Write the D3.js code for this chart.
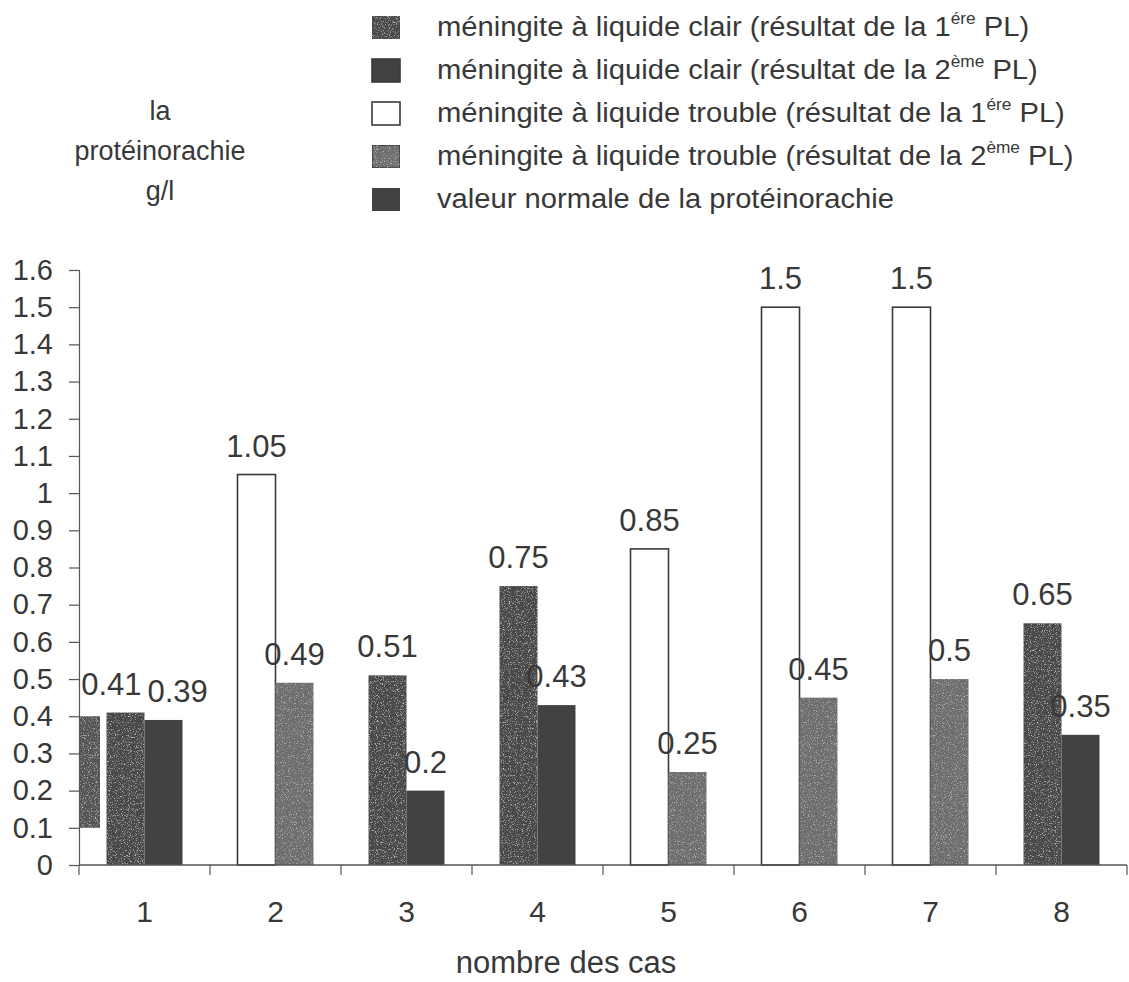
<!DOCTYPE html>
<html lang="fr">
<head>
<meta charset="utf-8">
<script src="https://cdn.jsdelivr.net/npm/d3@7"></script>
<style>
  html, body { margin: 0; padding: 0; background: #fff; }
  svg { display: block; }
  text { font-family: "Liberation Sans", Arial, sans-serif; fill: #383838; }
</style>
</head>
<body>
<svg id="chart" width="1129" height="982"></svg>
<script>
// Protéinorachie (g/l) par cas, 1ère et 2ème ponction lombaire
const categories = ["1", "2", "3", "4", "5", "6", "7", "8"];
const clair1   = [0.41, null, 0.51, 0.75, null, null, null, 0.65];
const clair2   = [0.39, null, 0.20, 0.43, null, null, null, 0.35];
const trouble1 = [null, 1.05, null, null, 0.85, 1.50, 1.50, null];
const trouble2 = [null, 0.49, null, null, 0.25, 0.45, 0.50, null];
const normalRange = [0.1, 0.4];
const yTicks = [0, 0.1, 0.2, 0.3, 0.4, 0.5, 0.6, 0.7, 0.8, 0.9, 1, 1.1, 1.2, 1.3, 1.4, 1.5, 1.6];

const legendLabels = [
  {text: "méningite à liquide clair (résultat de la 1", sup: "ére", tail: " PL)"},
  {text: "méningite à liquide clair (résultat de la 2", sup: "ème", tail: " PL)"},
  {text: "méningite à liquide trouble (résultat de la 1", sup: "ére", tail: " PL)"},
  {text: "méningite à liquide trouble (résultat de la 2", sup: "ème", tail: " PL)"},
  {text: "valeur normale de la protéinorachie"}
];

const series = [
  {key: "clair1",   values: clair1,   fill: "#4a4a4a", grain: "grainLight", stroke: "none"},
  {key: "clair2",   values: clair2,   fill: "#424242", grain: null,         stroke: "none"},
  {key: "trouble1", values: trouble1, fill: "#ffffff", grain: null,         stroke: "#3a3a3a"},
  {key: "trouble2", values: trouble2, fill: "#6e6e6e", grain: "grainMixed", stroke: "none"}
];
const normalStyle = {fill: "#555555", grain: "grainLight"};

const svg = d3.select("#chart");
const defs = svg.append("defs");

// speckle texture for the stippled fills
function grainFilter(id, lightAmt, darkAmt) {
  const f = defs.append("filter").attr("id", id)
    .attr("x", 0).attr("y", 0).attr("width", "100%").attr("height", "100%");
  f.append("feTurbulence").attr("type", "fractalNoise").attr("baseFrequency", 0.85)
    .attr("numOctaves", 2).attr("seed", 7).attr("result", "noise");
  f.append("feColorMatrix").attr("in", "noise").attr("type", "matrix")
    .attr("values", `0 0 0 0 1  0 0 0 0 1  0 0 0 0 1  ${lightAmt} 0 0 0 ${-lightAmt * 0.56}`)
    .attr("result", "light");
  f.append("feComposite").attr("in", "light").attr("in2", "SourceGraphic").attr("operator", "in").attr("result", "lightIn");
  f.append("feColorMatrix").attr("in", "noise").attr("type", "matrix")
    .attr("values", `0 0 0 0 0.15  0 0 0 0 0.15  0 0 0 0 0.15  0 ${-darkAmt} 0 0 ${darkAmt * 0.45}`)
    .attr("result", "dark");
  f.append("feComposite").attr("in", "dark").attr("in2", "SourceGraphic").attr("operator", "in").attr("result", "darkIn");
  const m = f.append("feMerge");
  m.append("feMergeNode").attr("in", "SourceGraphic");
  m.append("feMergeNode").attr("in", "lightIn");
  m.append("feMergeNode").attr("in", "darkIn");
}
grainFilter("grainLight", 2.0, 0);
grainFilter("grainMixed", 1.8, 2.0);

const plot = {left: 79, right: 1127, top: 270, bottom: 865};

const x = d3.scaleBand().domain(categories).range([plot.left, plot.right]);
const y = d3.scaleLinear().domain([0, 1.6]).range([plot.bottom, plot.top]);
const barW = x.bandwidth() * 0.29;
const fmt = v => d3.format(".2f")(v).replace(/0+$/, "").replace(/\.$/, "");

// normal range bar against the y axis
svg.append("rect")
  .attr("x", plot.left).attr("width", 21)
  .attr("y", y(normalRange[1])).attr("height", y(normalRange[0]) - y(normalRange[1]))
  .attr("fill", normalStyle.fill).attr("filter", `url(#${normalStyle.grain})`);

// bars: the series present in a case sit side by side, centred on the case
const bars = [];
categories.forEach((c, i) => {
  const present = series.filter(s => s.values[i] != null);
  const slot = d3.scaleBand().domain(d3.range(present.length))
    .range([x(c) + x.bandwidth() / 2 - barW * present.length / 2,
            x(c) + x.bandwidth() / 2 + barW * present.length / 2]);
  present.forEach((s, j) => bars.push({cat: c, s, value: s.values[i], x0: slot(j), w: slot.bandwidth()}));
});

const gBars = svg.append("g");
gBars.selectAll("rect").data(bars).join("rect")
  .attr("x", d => d.x0).attr("width", d => d.w)
  .attr("y", d => y(d.value)).attr("height", d => y(0) - y(d.value))
  .attr("fill", d => d.s.fill)
  .attr("stroke", d => d.s.stroke).attr("stroke-width", 1.6)
  .attr("filter", d => d.s.grain ? `url(#${d.s.grain})` : null);

// axes
const yAxis = d3.axisLeft(y).tickValues(yTicks).tickSize(10).tickPadding(16)
  .tickFormat(d => d3.format(".1f")(d).replace(/\.0$/, ""));
const gy = svg.append("g").attr("transform", `translate(${plot.left},0)`).call(yAxis);
gy.selectAll("text").style("font-size", "29px").attr("fill", "#383838");
gy.selectAll("line, path").attr("stroke", "#555").attr("stroke-width", 1.2);

const gx = svg.append("g").attr("transform", `translate(0,${plot.bottom})`);
gx.append("line").attr("x1", plot.left).attr("x2", plot.right).attr("y1", 0).attr("y2", 0)
  .attr("stroke", "#555").attr("stroke-width", 1.4);
const boundaries = categories.map(c => x(c)).concat([plot.right]);
gx.selectAll("line.tick").data(boundaries).join("line").attr("class", "tick")
  .attr("x1", d => d).attr("x2", d => d).attr("y1", 0).attr("y2", 10)
  .attr("stroke", "#555").attr("stroke-width", 1.2);
gx.selectAll("text").data(categories).join("text")
  .attr("x", d => x(d) + x.bandwidth() / 2).attr("y", 57)
  .attr("text-anchor", "middle").style("font-size", "30px").text(d => d);

// value labels; neighbours at the same height are pushed apart
const gLab = svg.append("g");
const labels = gLab.selectAll("text").data(bars).join("text")
  .attr("x", d => d.x0 + d.w / 2).attr("y", d => y(d.value) - 18)
  .attr("text-anchor", "middle").style("font-size", "31px")
  .text(d => fmt(d.value));
labels.each(function(d) { d.tw = this.getComputedTextLength(); d.lx = d.x0 + d.w / 2; d.ly = y(d.value) - 18; });
categories.forEach(c => {
  const ls = bars.filter(b => b.cat === c);
  for (let k = 1; k < ls.length; k++) {
    const a = ls[k - 1], b = ls[k];
    if (Math.abs(a.ly - b.ly) < 26) {
      const need = (a.tw + b.tw) / 2 + 6 - (b.lx - a.lx);
      if (need > 0) { a.lx -= need / 2; b.lx += need / 2; }
    }
  }
});
labels.attr("x", d => d.lx);

// axis titles
const yt = svg.append("text").attr("text-anchor", "middle").style("font-size", "27px");
["la", "protéinorachie", "g/l"].forEach((t, i) =>
  yt.append("tspan").attr("x", 160).attr("y", 120 + i * 40).text(t));
svg.append("text").attr("x", 566).attr("y", 973).attr("text-anchor", "middle")
  .style("font-size", "31px").text("nombre des cas");

// legend
const legendStyles = series.concat([{fill: "#424242", grain: null, stroke: "none"}]);
const gLeg = svg.append("g");
legendLabels.forEach((l, i) => {
  const cy = 27 + i * 43;
  const st = legendStyles[i];
  gLeg.append("rect").attr("x", 372).attr("y", cy - 11).attr("width", 28).attr("height", 23)
    .attr("fill", st.fill)
    .attr("stroke", i >= 1 && i <= 3 ? "#3a3a3a" : "none").attr("stroke-width", 1.6)
    .attr("filter", st.grain ? `url(#${st.grain})` : null);
  const t = gLeg.append("text")
    .attr("transform", `translate(437,${cy + 9}) scale(1.08,1)`)
    .style("font-size", "27px");
  t.append("tspan").text(l.text);
  if (l.sup) {
    t.append("tspan").attr("dy", -12).style("font-size", "16px").text(l.sup);
    t.append("tspan").attr("dy", 12).text(l.tail);
  }
});
</script>
</body>
</html>
